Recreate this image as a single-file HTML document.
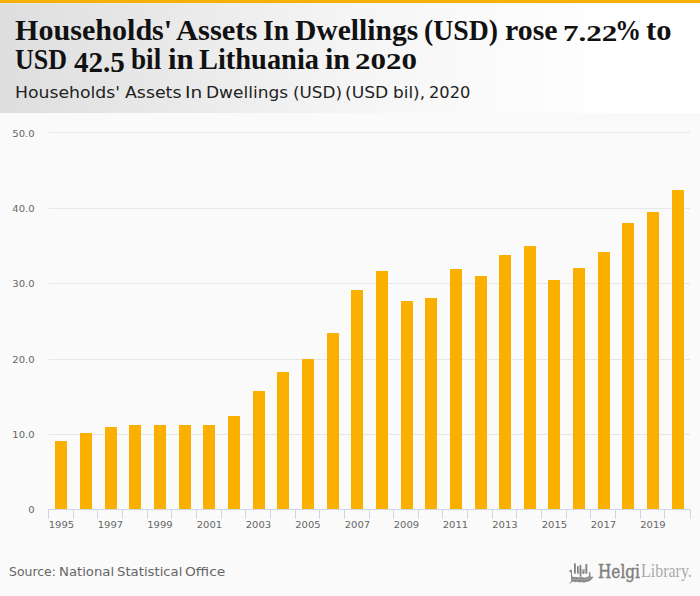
<!DOCTYPE html>
<html><head><meta charset="utf-8"><style>
html,body{margin:0;padding:0;}
body{width:700px;height:596px;overflow:hidden;background:#fafafa;position:relative;}
#top{position:absolute;left:0;top:0;width:700px;height:3px;background:#fbb000;}
#hdr{position:absolute;left:0;top:3px;width:700px;height:110px;background:linear-gradient(to right,#dedede 0px,#f5f5f5 350px,#ffffff 612px);}
.w{position:absolute;white-space:nowrap;line-height:1;transform-origin:0 0;}
.t1,.t2{font-family:"Liberation Serif",serif;font-weight:bold;color:#111;font-size:28.9px;}
.sub{font-family:"DejaVu Sans",sans-serif;font-size:15.7px;color:#222;}
.src{font-family:"DejaVu Sans",sans-serif;font-size:12.95px;color:#666;}
#hl{position:absolute;left:0;top:3px;width:700px;height:1px;background:rgba(235,242,255,0.3);}
svg{position:absolute;left:0;top:0;}
svg text{font-family:"DejaVu Sans",sans-serif;font-size:10px;fill:#666;}
#logo{position:absolute;left:0;top:0;}
.lg{position:absolute;white-space:nowrap;line-height:1;transform-origin:0 0;}
#lh{left:598px;top:562.5px;font-family:"DejaVu Serif",serif;font-size:17.8px;color:#7e7e7e;-webkit-text-stroke:0.45px #7e7e7e;transform:scaleX(0.86);}
#ll{left:640.5px;top:561px;font-family:"Liberation Serif",serif;font-size:19.6px;color:#ababab;transform:scaleX(0.815);}
#ic{position:absolute;left:566px;top:560px;}
</style></head><body>
<div id="top"></div>
<div id="hdr"></div><div id="hl"></div>
<span class="w t1" style="left:15.48px;top:15.9px;transform:scaleX(1.0415)">Households&#39;</span>
<span class="w t1" style="left:175.84px;top:15.9px;transform:scaleX(1.0566)">Assets</span>
<span class="w t1" style="left:262.85px;top:15.9px;transform:scaleX(0.9500)">In</span>
<span class="w t1" style="left:295.39px;top:15.9px;transform:scaleX(1.0231)">Dwellings</span>
<span class="w t1" style="left:424.00px;top:15.9px;transform:scaleX(0.9597)">(USD)</span>
<span class="w t1" style="left:504.92px;top:15.9px;transform:scaleX(1.0335)">rose</span>
<span class="w t1" style="left:562.92px;top:15.9px;transform-origin:0 24.1px;transform:translateY(0.5px) scale(1.0758,0.8)">7.22</span>
<span class="w t1" style="left:614.99px;top:15.9px;transform:scaleX(0.9032)">%</span>
<span class="w t1" style="left:645.97px;top:15.9px;transform:scaleX(1.0578)">to</span>
<span class="w t2" style="left:15.13px;top:45.2px;transform:scaleX(0.8987)">USD</span>
<span class="w t2" style="left:73.60px;top:45.2px;transform-origin:0 24.1px;transform:translateY(3px) scale(1.0061,1)">42.5</span>
<span class="w t2" style="left:131.27px;top:45.2px;transform:scaleX(0.9397)">bil</span>
<span class="w t2" style="left:167.70px;top:45.2px;transform:scaleX(1.0696)">in</span>
<span class="w t2" style="left:199.21px;top:45.2px;transform:scaleX(0.9835)">Lithuania</span>
<span class="w t2" style="left:324.92px;top:45.2px;transform:scaleX(1.0391)">in</span>
<span class="w t2" style="left:355.16px;top:45.2px;transform-origin:0 24.1px;transform:translateY(0px) scale(1.0739,0.83)">2020</span>
<span class="w sub" style="left:15.05px;top:85.2px;transform:scaleX(1.0995)">Households&#39;</span>
<span class="w sub" style="left:125.02px;top:85.2px;transform:scaleX(1.1060)">Assets</span>
<span class="w sub" style="left:185.03px;top:85.2px;transform:scaleX(1.1830)">In</span>
<span class="w sub" style="left:206.27px;top:85.2px;transform:scaleX(1.0844)">Dwellings</span>
<span class="w sub" style="left:292.96px;top:85.2px;transform:scaleX(1.0705)">(USD)</span>
<span class="w sub" style="left:345.14px;top:85.2px;transform:scaleX(1.0907)">(USD</span>
<span class="w sub" style="left:392.99px;top:85.2px;transform:scaleX(1.0766)">bil),</span>
<span class="w sub" style="left:428.81px;top:85.2px;transform:scaleX(1.0347)">2020</span>
<span class="w src" style="left:8.88px;top:566.4px;transform:scaleX(0.9613)">Source:</span>
<span class="w src" style="left:58.72px;top:566.4px;transform:scaleX(1.0214)">National</span>
<span class="w src" style="left:116.93px;top:566.4px;transform:scaleX(1.0226)">Statistical</span>
<span class="w src" style="left:184.60px;top:566.4px;transform:scaleX(1.0648)">Office</span>
<svg width="700" height="596" viewBox="0 0 700 596">
<rect x="49" y="132" width="641" height="1" fill="#e6e6e6"/>
<rect x="49" y="208" width="641" height="1" fill="#e6e6e6"/>
<rect x="49" y="283" width="641" height="1" fill="#e6e6e6"/>
<rect x="49" y="359" width="641" height="1" fill="#e6e6e6"/>
<rect x="49" y="434" width="641" height="1" fill="#e6e6e6"/>
<rect x="55" y="441" width="12" height="68" fill="#fbb000"/>
<rect x="80" y="433" width="12" height="76" fill="#fbb000"/>
<rect x="105" y="427" width="12" height="82" fill="#fbb000"/>
<rect x="129" y="425" width="12" height="84" fill="#fbb000"/>
<rect x="154" y="425" width="12" height="84" fill="#fbb000"/>
<rect x="179" y="425" width="12" height="84" fill="#fbb000"/>
<rect x="203" y="425" width="12" height="84" fill="#fbb000"/>
<rect x="228" y="416" width="12" height="93" fill="#fbb000"/>
<rect x="253" y="391" width="12" height="118" fill="#fbb000"/>
<rect x="277" y="372" width="12" height="137" fill="#fbb000"/>
<rect x="302" y="359" width="12" height="150" fill="#fbb000"/>
<rect x="327" y="333" width="12" height="176" fill="#fbb000"/>
<rect x="351" y="290" width="12" height="219" fill="#fbb000"/>
<rect x="376" y="271" width="12" height="238" fill="#fbb000"/>
<rect x="401" y="301" width="12" height="208" fill="#fbb000"/>
<rect x="425" y="298" width="12" height="211" fill="#fbb000"/>
<rect x="450" y="269" width="12" height="240" fill="#fbb000"/>
<rect x="475" y="276" width="12" height="233" fill="#fbb000"/>
<rect x="499" y="255" width="12" height="254" fill="#fbb000"/>
<rect x="524" y="246" width="12" height="263" fill="#fbb000"/>
<rect x="548" y="280" width="12" height="229" fill="#fbb000"/>
<rect x="573" y="268" width="12" height="241" fill="#fbb000"/>
<rect x="598" y="252" width="12" height="257" fill="#fbb000"/>
<rect x="622" y="223" width="12" height="286" fill="#fbb000"/>
<rect x="647" y="212" width="12" height="297" fill="#fbb000"/>
<rect x="672" y="190" width="12" height="319" fill="#fbb000"/>
<rect x="48" y="509" width="643" height="1" fill="#ccd6eb"/>
<rect x="48" y="509" width="1" height="10" fill="#ccd6eb"/>
<rect x="73" y="509" width="1" height="10" fill="#ccd6eb"/>
<rect x="97" y="509" width="1" height="10" fill="#ccd6eb"/>
<rect x="122" y="509" width="1" height="10" fill="#ccd6eb"/>
<rect x="147" y="509" width="1" height="10" fill="#ccd6eb"/>
<rect x="171" y="509" width="1" height="10" fill="#ccd6eb"/>
<rect x="196" y="509" width="1" height="10" fill="#ccd6eb"/>
<rect x="221" y="509" width="1" height="10" fill="#ccd6eb"/>
<rect x="245" y="509" width="1" height="10" fill="#ccd6eb"/>
<rect x="270" y="509" width="1" height="10" fill="#ccd6eb"/>
<rect x="295" y="509" width="1" height="10" fill="#ccd6eb"/>
<rect x="319" y="509" width="1" height="10" fill="#ccd6eb"/>
<rect x="344" y="509" width="1" height="10" fill="#ccd6eb"/>
<rect x="369" y="509" width="1" height="10" fill="#ccd6eb"/>
<rect x="393" y="509" width="1" height="10" fill="#ccd6eb"/>
<rect x="418" y="509" width="1" height="10" fill="#ccd6eb"/>
<rect x="442" y="509" width="1" height="10" fill="#ccd6eb"/>
<rect x="467" y="509" width="1" height="10" fill="#ccd6eb"/>
<rect x="492" y="509" width="1" height="10" fill="#ccd6eb"/>
<rect x="516" y="509" width="1" height="10" fill="#ccd6eb"/>
<rect x="541" y="509" width="1" height="10" fill="#ccd6eb"/>
<rect x="566" y="509" width="1" height="10" fill="#ccd6eb"/>
<rect x="590" y="509" width="1" height="10" fill="#ccd6eb"/>
<rect x="615" y="509" width="1" height="10" fill="#ccd6eb"/>
<rect x="640" y="509" width="1" height="10" fill="#ccd6eb"/>
<rect x="664" y="509" width="1" height="10" fill="#ccd6eb"/>
<rect x="690" y="509" width="1" height="10" fill="#ccd6eb"/>
<text transform="translate(34.6,137) scale(1,0.92)" text-anchor="end">50.0</text>
<text transform="translate(34.6,212) scale(1,0.92)" text-anchor="end">40.0</text>
<text transform="translate(34.6,287) scale(1,0.92)" text-anchor="end">30.0</text>
<text transform="translate(34.6,363) scale(1,0.92)" text-anchor="end">20.0</text>
<text transform="translate(34.6,438) scale(1,0.92)" text-anchor="end">10.0</text>
<text transform="translate(34.6,513) scale(1,0.92)" text-anchor="end">0</text>
<text transform="translate(61.4,528) scale(1,0.92)" text-anchor="middle">1995</text>
<text transform="translate(110.4,528) scale(1,0.92)" text-anchor="middle">1997</text>
<text transform="translate(159.9,528) scale(1,0.92)" text-anchor="middle">1999</text>
<text transform="translate(209.4,528) scale(1,0.92)" text-anchor="middle">2001</text>
<text transform="translate(258.4,528) scale(1,0.92)" text-anchor="middle">2003</text>
<text transform="translate(307.9,528) scale(1,0.92)" text-anchor="middle">2005</text>
<text transform="translate(357.4,528) scale(1,0.92)" text-anchor="middle">2007</text>
<text transform="translate(406.4,528) scale(1,0.92)" text-anchor="middle">2009</text>
<text transform="translate(455.4,528) scale(1,0.92)" text-anchor="middle">2011</text>
<text transform="translate(504.9,528) scale(1,0.92)" text-anchor="middle">2013</text>
<text transform="translate(554.4,528) scale(1,0.92)" text-anchor="middle">2015</text>
<text transform="translate(603.4,528) scale(1,0.92)" text-anchor="middle">2017</text>
<text transform="translate(652.9,528) scale(1,0.92)" text-anchor="middle">2019</text>
</svg>
<div class="lg" id="lh">Helgi</div><div class="lg" id="ll">Library.</div>
<svg id="ic" width="32" height="26" viewBox="0 0 32 26">
<g fill="#bdbdbd"><rect x="12.6" y="7" width="1.1" height="6.7"/><rect x="15.3" y="9" width="4.1" height="4.7"/></g>
<g fill="#828282">
<rect x="8" y="3.4" width="1.8" height="10.3"/>
<rect x="11" y="6" width="1.6" height="7.7"/>
<rect x="13.7" y="4.8" width="1.6" height="12"/>
<rect x="16.7" y="10.7" width="1.3" height="3"/>
<rect x="19.4" y="4.1" width="1.9" height="9.6"/>
</g>
<path fill="#8c8c8c" d="M3 11.6 C3.6 10 4.6 9.2 5.4 9.6 C6 10 6.1 11 6 12 L6.2 16.6 C8 17.4 10 16.6 12 17.2 C14 17.8 15 16.6 17 17.2 C19 17.8 21 16.8 22.8 16.4 L23.2 11.6 L24.4 12.4 L24.6 16.4 C25.4 17 26.4 16.6 27.6 16.4 L26.4 18.4 C24.6 20.4 22.6 21.8 20 22 C18.6 22.8 17 22.8 15.6 22 C14 22.6 12.4 22.4 11 21.8 C9.6 22.4 8 22.2 7 21.6 L3.6 23.8 L3.2 23.4 L5.2 21.2 L4.8 12.4 Z"/>
<path fill="none" stroke="#a8a8a8" stroke-width="0.7" d="M7 19.4 C9 18.4 11 20.4 13 19.4 C15 18.4 17 20.4 19 19.4 C21 18.4 22.6 19.2 24.2 18.2"/>
</svg>
</body></html>
